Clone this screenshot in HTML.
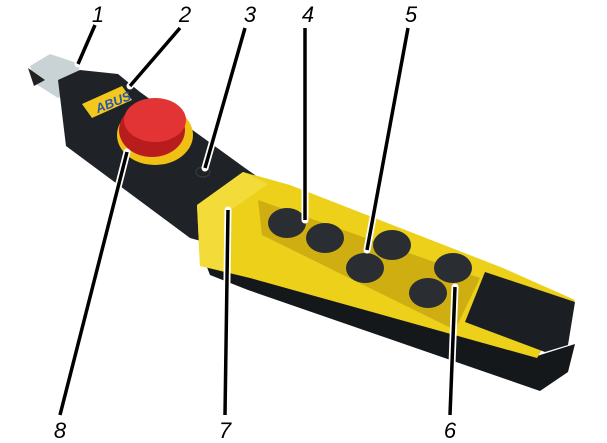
<!DOCTYPE html>
<html><head><style>html,body{margin:0;padding:0;background:#fff;width:607px;height:443px;overflow:hidden}</style></head>
<body>
<svg width="607" height="443" viewBox="0 0 607 443" xmlns="http://www.w3.org/2000/svg">
<rect width="607" height="443" fill="#fff"/>
<!-- cap -->
<polygon points="30,66 50,54 80,64 76,90 58,98 36,84" fill="#c9d3d6"/>
<polygon points="28,68 45,80 34,86" fill="#222"/>
<!-- black grip -->
<polygon points="58,80 80,70 118,74 140,92 245,168 262,180 215,245 190,238 66,146" fill="#1f2226"/>
<!-- ABUS label -->
<polygon points="82,104 122,86 132,100 92,118" fill="#f2c81c"/>
<text x="96" y="112" font-family="Liberation Sans,sans-serif" font-weight="bold" font-style="italic" font-size="13" fill="#2a55b0" transform="rotate(-22 100 108)">ABUS</text>
<!-- bottom black strip -->
<polygon points="205,262 250,276 537,356 575,344 568,372 540,391 248,290 210,275" fill="#15181b"/>
<!-- yellow body -->
<polygon points="197,205 243,172 290,185 503,268 575,300 545,345 537,358 250,278 200,266" fill="#ecd01a"/>
<polygon points="197,205 243,172 268,184 228,212 230,272 200,266" fill="#f3dc3a"/>
<polygon points="258,200 480,278 455,330 262,235" fill="#cfae12"/>
<!-- black end cap -->
<polygon points="485,272 575,302 568,345 545,352 465,322" fill="#1b1e22"/>
<!-- buttons -->
<g fill="#2a2e33">
<ellipse cx="287" cy="223" rx="19" ry="15"/>
<ellipse cx="325" cy="238" rx="19" ry="15"/>
<ellipse cx="392" cy="245" rx="19" ry="15"/>
<ellipse cx="365" cy="268" rx="19" ry="15"/>
<ellipse cx="453" cy="268" rx="19" ry="15"/>
<ellipse cx="428" cy="293" rx="19" ry="15"/>
</g>
<!-- e-stop -->
<ellipse cx="155" cy="135" rx="38" ry="30" fill="#f0c015"/>
<ellipse cx="152" cy="130" rx="33" ry="27" fill="#b81c1c"/>
<ellipse cx="155" cy="120" rx="31" ry="22" fill="#e23434"/>
<ellipse cx="203" cy="172" rx="7" ry="5" fill="none" stroke="#3a3d42"/>
<!-- leader lines -->
<g stroke="#fff" stroke-width="7" stroke-linecap="round">
<line x1="95" y1="25" x2="78" y2="64"/><line x1="180" y1="28" x2="130" y2="86"/>
<line x1="245" y1="28" x2="205" y2="168"/><line x1="305" y1="28" x2="305" y2="220"/>
<line x1="408" y1="28" x2="367" y2="250"/><line x1="450" y1="415" x2="455" y2="287"/>
<line x1="225" y1="415" x2="228" y2="210"/><line x1="60" y1="415" x2="127" y2="152"/>
</g>
<g stroke="#000" stroke-width="3.5">
<line x1="95" y1="25" x2="78" y2="64"/><line x1="180" y1="28" x2="130" y2="86"/>
<line x1="245" y1="28" x2="205" y2="168"/><line x1="305" y1="28" x2="305" y2="220"/>
<line x1="408" y1="28" x2="367" y2="250"/><line x1="450" y1="415" x2="455" y2="287"/>
<line x1="225" y1="415" x2="228" y2="210"/><line x1="60" y1="415" x2="127" y2="152"/>
</g>
<g font-family="Liberation Sans,sans-serif" font-style="italic" font-size="22" fill="#000" text-anchor="middle">
<text x="98" y="22">1</text><text x="185" y="22">2</text><text x="250" y="22">3</text>
<text x="308" y="22">4</text><text x="411" y="22">5</text>
<text x="60" y="438">8</text><text x="225" y="438">7</text><text x="450" y="438">6</text>
</g>
</svg>
</body></html>
